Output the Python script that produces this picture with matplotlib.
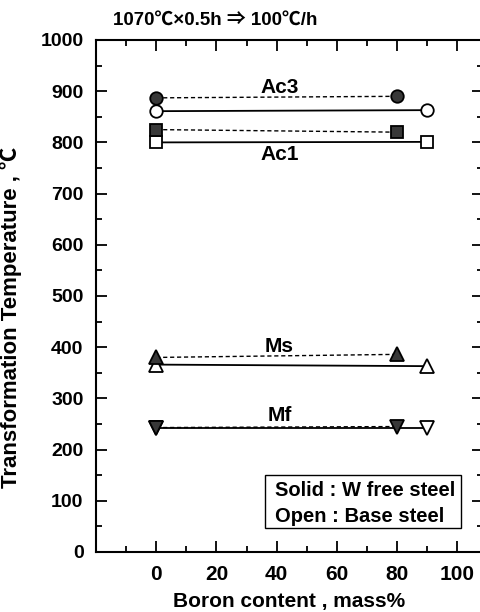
import matplotlib
matplotlib.use("Agg")
import matplotlib.pyplot as plt
from matplotlib.ticker import MultipleLocator
from matplotlib.patches import Rectangle

plt.rcParams['font.family'] = ['Liberation Sans', 'Noto Sans CJK JP', 'DejaVu Sans']
plt.rcParams['font.weight'] = 'bold'

# W free steel (solid markers, dashed lines): boron content 0 and 80
x_wfree = [0, 80]
# Base steel (open markers, solid lines): boron content 0 and 90
x_base = [0, 90]

ac3_wfree = [887, 890]
ac3_base = [861, 863]
ac1_wfree = [825, 820]
ac1_base = [800, 801]
ms_wfree = [380, 386]
ms_base = [366, 363]
mf_wfree = [243, 245]
mf_base = [243, 243]

labels = ["Ac3", "Ac1", "Ms", "Mf"]
label_x = [41, 41, 41, 41]
label_y = [908, 776, 401, 266]

W, H = 481, 612
fig = plt.figure(figsize=(W / 100, H / 100), dpi=100)
left_px, right_px, top_px, bot_px = 96, 482.8, 40, 552
ax = fig.add_axes([left_px / W, (H - bot_px) / H, (right_px - left_px) / W, (bot_px - top_px) / H])

solid_fc = '0.22'
series = [
    (ac3_wfree, ac3_base, 'o', 9),
    (ac1_wfree, ac1_base, 's', 8),
    (ms_wfree, ms_base, '^', 9.5),
    (mf_wfree, mf_base, 'v', 9.5),
]
for wf, bs, m, ms in series:
    ax.plot(x_base, bs, '-', color='black', lw=1.3, marker=m, ms=ms,
            mfc='white', mec='black', mew=1.3, zorder=2)
    ax.plot(x_wfree, wf, '--', color='black', lw=1.0, dashes=(3, 2), marker=m, ms=ms,
            mfc=solid_fc, mec='black', mew=1.3, zorder=3)

for t, lx, ly in zip(labels, label_x, label_y):
    ax.text(lx, ly, t, ha='center', va='center', fontsize=15, fontweight='bold')

ax.set_xlim(-20, 108.5)
ax.set_ylim(0, 1000)
ax.set_xticks([0, 20, 40, 60, 80, 100])
ax.set_xticks([-10, 10, 30, 50, 70, 90], minor=True)
ax.yaxis.set_major_locator(MultipleLocator(100))
ax.yaxis.set_minor_locator(MultipleLocator(50))
ax.tick_params(which='both', direction='in', top=True, right=True, width=1.3)
ax.tick_params(which='major', length=8)
ax.tick_params(which='minor', length=4)
ax.tick_params(axis='x', labelsize=15, pad=9)
ax.tick_params(axis='y', labelsize=14, pad=9)
for lab in ax.get_xticklabels() + ax.get_yticklabels():
    lab.set_fontweight('bold')
for s in ax.spines.values():
    s.set_linewidth(1.5)

ax.set_xlabel("Boron content , mass%", fontsize=15, fontweight='bold', labelpad=6)
ax.set_ylabel("Transformation Temperature , ℃", fontsize=16, fontweight='bold')
ax.yaxis.set_label_coords(-(96 - 22) / (right_px - left_px), (bot_px - 317) / (bot_px - top_px))

fig.text(113 / W, 1 - 20 / H, "1070℃×0.5h ⇒ 100℃/h", ha='left', va='center',
         fontsize=13.5, fontweight='bold')

def ax_x(px):
    return (px - left_px) / (right_px - left_px)

def ax_y(py):
    return (bot_px - py) / (bot_px - top_px)

ax.add_patch(Rectangle((ax_x(265), ax_y(528)), ax_x(461) - ax_x(265), ax_y(475) - ax_y(528),
                       transform=ax.transAxes, fc='white', ec='black', lw=1.0, zorder=4))
ax.text(ax_x(275), ax_y(490), "Solid : W free steel", transform=ax.transAxes,
        ha='left', va='center', fontsize=14.5, fontweight='bold', zorder=5)
ax.text(ax_x(275), ax_y(516), "Open : Base steel", transform=ax.transAxes,
        ha='left', va='center', fontsize=14.5, fontweight='bold', zorder=5)

fig.savefig("out.png", dpi=100)
